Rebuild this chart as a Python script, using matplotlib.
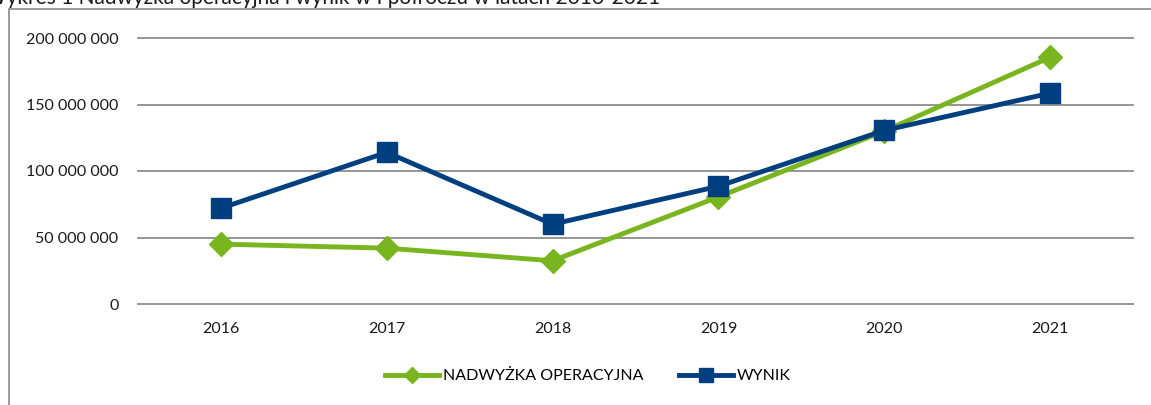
import matplotlib.pyplot as plt
from matplotlib.lines import Line2D

# data
years = ['2016', '2017', '2018', '2019', '2020', '2021']
nadwyzka = [45_000_000, 42_000_000, 32_500_000, 80_500_000, 130_000_000, 185_500_000]
wynik = [72_000_000, 114_000_000, 60_000_000, 88_500_000, 130_500_000, 158_500_000]
yticks = [0, 50_000_000, 100_000_000, 150_000_000, 200_000_000]

green = '#78B51F'
blue = '#003F7F'
grid = '#8C8C8C'

plt.rcParams['font.family'] = ['Lato', 'DejaVu Sans']

fig = plt.figure(figsize=(11.51, 4.05), dpi=100)
ax = fig.add_axes([138/1151, 1 - 304/405, (1133 - 138)/1151, (304 - 38)/405])

x = range(len(years))
ax.plot(x, nadwyzka, color=green, lw=3.5, marker='D', ms=12, label='NADWYŻKA OPERACYJNA', zorder=3)
ax.plot(x, wynik, color=blue, lw=3.5, marker='s', ms=14.5, label='WYNIK', zorder=4)

ax.set_xlim(-0.5, len(years) - 0.5)
ax.set_ylim(0, 200_000_000)
ax.set_xticks(list(x))
ax.set_xticklabels(years)
ax.set_yticks(yticks)
ax.set_yticklabels(['{:,}'.format(v).replace(',', ' ') for v in yticks])
ax.tick_params(axis='both', length=0, labelsize=11.5, colors='#1a1a1a')
ax.tick_params(axis='y', pad=14)
ax.tick_params(axis='x', pad=13)

for v in yticks:
    ax.axhline(v, color=grid, lw=1.3, zorder=1, clip_on=False)
for s in ax.spines.values():
    s.set_visible(False)

ax.legend(loc='center', bbox_to_anchor=(0.5 + (588 - 635.5) / 995, 1 - (376 - 38) / 266),
          ncol=2, frameon=False, fontsize=11.5, handlelength=3.4, handletextpad=0.25,
          columnspacing=2.2, markerscale=0.7)

# outer frame (top and left edges visible)
fig.add_artist(Line2D([10/1151, 1], [1 - 9/405, 1 - 9/405], color='#8A8A8A', lw=1.2))
fig.add_artist(Line2D([9/1151, 9/1151], [0, 1 - 9/405], color='#8A8A8A', lw=1.2))

# title, cut off at the top edge of the image
fig.text(-15/1151, 1 + 2/405, 'Wykres 1 Nadwyżka operacyjna i wynik w I półroczu w latach 2016-2021',
         fontsize=15, ha='left', va='center', color='#1a1a1a')

fig.savefig('out.png', dpi=100)
